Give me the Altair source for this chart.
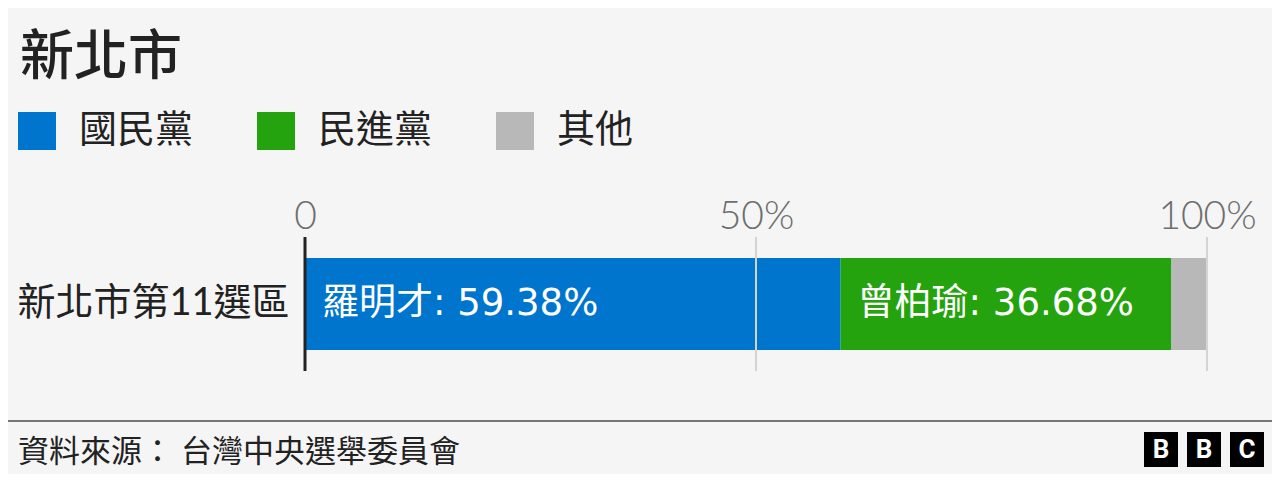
import altair as alt
import pandas as pd

# ---- data ----
title_text = ["新北市"]
district = ["新北市第11選區"]
parties = ["國民黨", "民進黨", "其他"]
candidates = ["羅明才", "曾柏瑜", ""]
shares = [59.38, 36.68, 3.94]
bar_colors = ["#0075cd", "#25a30e", "#b8b8b8"]
tick_values = [0, 50, 100]
grid_values = [50, 100]
zero_line = [0]
source_text = ["資料來源： 台灣中央選舉委員會"]
logo_letters = ["B", "B", "C"]

CJK = "Lato, Noto Sans CJK TC"
LBL = "DejaVu Sans, Noto Sans CJK TC"

df = pd.DataFrame({
    "district": district * len(parties),
    "party": parties,
    "cand": candidates,
    "value": shares,
    "order": list(range(len(parties))),
})

W, H = 902, 134

base = alt.Chart(df).transform_stack(
    stack="value", groupby=["district"], as_=["x0", "x1"],
    sort=[alt.SortField("order", order="ascending")]
)

bars = base.mark_bar(size=92).encode(
    x=alt.X("x0:Q", title=None,
            scale=alt.Scale(domain=[0, 100], nice=False, zero=True),
            axis=alt.Axis(orient="top", values=tick_values,
                          labelExpr="datum.value == 0 ? '0' : datum.value + '%'",
                          labelFontSize=39, labelFont="Lato", labelFontWeight=300,
                          labelColor="#6e6e6e", labelBaseline="alphabetic",
                          labelPadding=9, labelFlush=False, ticks=False, tickSize=0,
                          domain=False, grid=False)),
    x2="x1:Q",
    y=alt.Y("district:N", title=None,
            axis=alt.Axis(labelFontSize=38, labelFont=CJK, labelColor="#222222",
                          labelPadding=16, ticks=False, tickSize=0, domain=False,
                          grid=False, labelLimit=400)),
    color=alt.Color("party:N",
                    scale=alt.Scale(domain=parties, range=bar_colors),
                    legend=alt.Legend(title=None, orient="none", direction="horizontal",
                                      legendX=-287, legendY=-125, padding=0,
                                      symbolType="square", symbolSize=1444,
                                      symbolStrokeWidth=0, symbolOpacity=1,
                                      labelFont=CJK, labelFontSize=38,
                                      labelColor="#222222", labelOffset=23,
                                      columnPadding=63, labelLimit=300)),
)

labels = base.transform_filter("datum.cand != ''").transform_calculate(
    label="datum.cand + ': ' + format(datum.value, '.2f') + '%'"
).mark_text(align="left", baseline="middle", dx=17, fontSize=37,
            font=LBL, color="white").encode(
    x=alt.X("x0:Q", title=None),
    y=alt.Y("district:N", title=None),
    text="label:N",
)

grid = alt.Chart(pd.DataFrame({"v": grid_values})).mark_rule(
    color="#d4d4d4", strokeWidth=2).encode(x=alt.X("v:Q", title=None))

zero = alt.Chart(pd.DataFrame({"v": zero_line})).mark_rule(
    color="#222222", strokeWidth=3).encode(x=alt.X("v:Q", title=None))

title = alt.Chart(pd.DataFrame({"t": title_text})).mark_text(
    align="left", baseline="alphabetic", fontSize=54, fontWeight=500,
    font="Noto Sans CJK TC", color="#222222").encode(
    x=alt.value(-285), y=alt.value(-162), text="t:N")

footer_line = alt.Chart(pd.DataFrame({"a": [0]})).mark_rule(
    color="#777777", strokeWidth=2).encode(
    x=alt.value(-297), x2=alt.value(967), y=alt.value(184))

source = alt.Chart(pd.DataFrame({"t": source_text})).mark_text(
    align="left", baseline="alphabetic", fontSize=31, font=CJK,
    color="#222222").encode(
    x=alt.value(-287), y=alt.value(225), text="t:N")

logo_layers = []
for i, letter in enumerate(logo_letters):
    left = 839 + 43 * i
    d = pd.DataFrame({"t": [letter]})
    logo_layers.append(
        alt.Chart(d).mark_rect(color="black").encode(
            x=alt.value(left), x2=alt.value(left + 34),
            y=alt.value(195), y2=alt.value(230)))
    logo_layers.append(
        alt.Chart(d).mark_text(color="white", fontSize=26, fontWeight="bold",
                               font="Roboto", align="center", baseline="middle").encode(
            x=alt.value(left + 17), y=alt.value(213), text="t:N"))

chart = alt.layer(
    bars, grid, zero, labels, title, footer_line, source, *logo_layers
).properties(
    width=W, height=H,
    autosize=alt.AutoSizeParams(type="none"),
    padding={"left": 297, "top": 229, "right": 65, "bottom": 103},
).configure(background="#f5f5f5").configure_view(stroke=None)

chart.save("out.html", embed_options={"renderer": "svg", "actions": False})
